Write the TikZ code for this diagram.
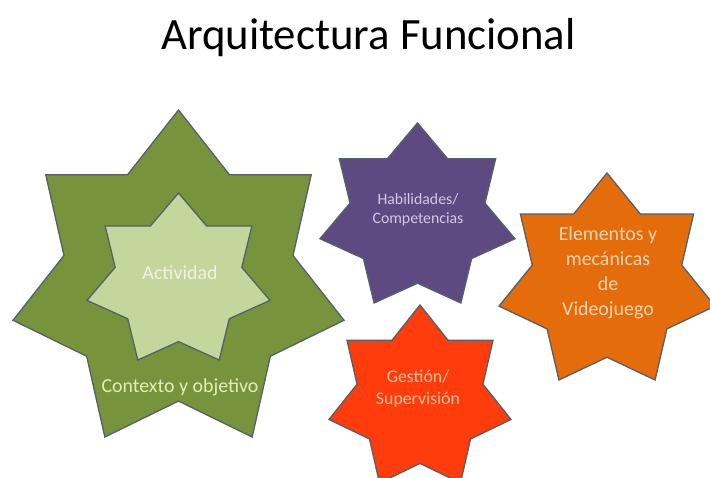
\documentclass[tikz,border=0pt]{standalone}
\usepackage{fontspec}
\setmainfont{Carlito}
\definecolor{gdark}{HTML}{77933C}
\definecolor{glight}{HTML}{C3D69B}
\definecolor{purp}{HTML}{5D4A82}
\definecolor{oran}{HTML}{E46C0A}
\definecolor{redo}{HTML}{FF3C0C}
\definecolor{edge}{HTML}{55606A}
\definecolor{tact}{HTML}{EEF3E0}
\definecolor{tctx}{HTML}{E3EDB8}
\definecolor{thab}{HTML}{D2C8E4}
\definecolor{tele}{HTML}{FCD5B4}
\definecolor{tges}{HTML}{FBC09A}
\newcommand\heptstar[5]{%
  \pgfmathsetmacro\hsHc{#1+#3/2}%
  \pgfmathsetmacro\hsRx{1.02572*#3/2}%
  \pgfmathsetmacro\hsRy{1.05210*#4/2}%
  \pgfmathsetmacro\hsCy{#2+\hsRy}%
  \draw[starline, fill=#5] (\hsHc,#2)
    foreach \k [evaluate=\k as \rr using {ifthenelse(mod(\k,2)==0,1,0.69202)},
                evaluate=\k as \aa using {-90+\k*360/14}] in {1,...,13}
    { -- ({\hsHc+\rr*\hsRx*cos(\aa)},{\hsCy+\rr*\hsRy*sin(\aa)}) } -- cycle;
}
\tikzset{
  starline/.style={draw=edge, line width=1.3pt, line join=miter},
  lbl/.style={align=center, inner sep=0pt},
}
\begin{document}
\begin{tikzpicture}[x=1pt, y=-1pt]
\useasboundingbox (0,0) rectangle (710,478);
\clip (0,0) rectangle (710,478);
\fill[white] (0,0) rectangle (710,478);
% title
\node[lbl, anchor=base, font=\fontsize{44.8}{54}\selectfont] (title) at (368.5,50) {Arquitectura Funcional};
% green stars
\heptstar{13}{110}{331}{327}{gdark}
\heptstar{87}{193}{183}{167}{glight}
% purple
\heptstar{320}{123}{195}{180}{purp}
% orange
\heptstar{499}{173}{216}{207}{oran}
% red
\heptstar{329}{305}{182}{178}{redo}
% labels
\node[lbl, text=tact, font=\fontsize{19.9}{23.8}\selectfont] (act) at (180,273) {Actividad};
\node[lbl, text=tctx, font=\fontsize{19.9}{23.8}\selectfont] (ctx) at (180,387) {Contexto y objetivo};
\node[lbl, text=thab, font=\fontsize{15.8}{19.5}\selectfont] (hab) at (418,210) {Habilidades/\\Competencias};
\node[lbl, text=tele, font=\fontsize{19.9}{25}\selectfont] (ele) at (608,273) {Elementos y\\mecánicas\\de\\Videojuego};
\node[lbl, text=tges, font=\fontsize{17.8}{21.8}\selectfont] (ges) at (418,389) {Gestión/\\Supervisión};
\end{tikzpicture}
\end{document}
